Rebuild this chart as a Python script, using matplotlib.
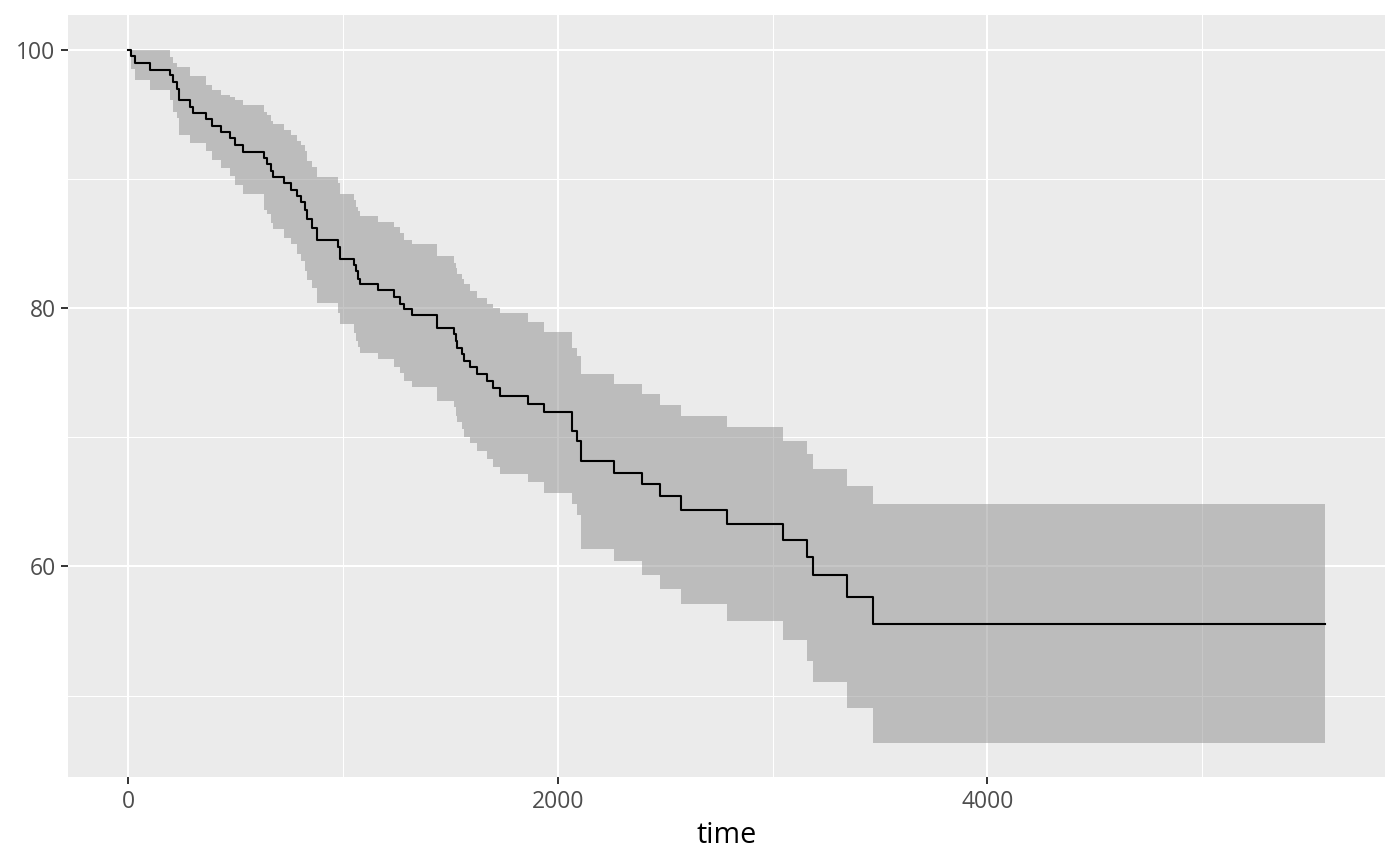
import numpy as np
import matplotlib
matplotlib.use("Agg")
import matplotlib.pyplot as plt
from matplotlib.ticker import MultipleLocator

# Kaplan-Meier step curve (time, survival %, CI bounds)
time = [0, 12, 34, 103, 193, 211, 226, 235, 286, 300, 360, 388, 434, 472, 498,
        536, 630, 647, 667, 673, 726, 759, 786, 806, 821, 834, 856, 877, 975,
        987, 1050, 1060, 1068, 1080, 1164, 1239, 1264, 1282, 1320, 1437, 1516,
        1526, 1533, 1553, 1565, 1591, 1625, 1671, 1700, 1732, 1863, 1936, 2067,
        2090, 2109, 2262, 2394, 2474, 2572, 2789, 3049, 3158, 3188, 3344, 3467]
surv = [100, 99.5, 98.94, 98.43, 98.05, 97.53, 96.96, 96.08, 95.52, 95.06,
        94.61, 94.09, 93.63, 93.15, 92.62, 92.1, 91.6, 91.14, 90.63, 90.12,
        89.68, 89.17, 88.7, 88.2, 87.62, 86.85, 86.2, 85.27, 84.7, 83.8, 83.3,
        82.86, 82.22, 81.83, 81.37, 80.85, 80.33, 79.9, 79.42, 78.45, 77.97,
        77.45, 76.93, 76.42, 75.9, 75.42, 74.9, 74.36, 73.8, 73.2, 72.58,
        71.94, 70.45, 69.68, 68.13, 67.23, 66.39, 65.43, 64.38, 63.27, 62.06,
        60.72, 59.31, 57.63, 55.57]
upper = [100, 100, 100, 100, 99.4, 99.0, 98.64, 98.64, 97.97, 97.97, 97.27,
         96.88, 96.5, 96.3, 96.11, 95.73, 95.2, 94.96, 94.5, 94.23, 93.8,
         93.41, 92.95, 92.59, 92.18, 91.35, 90.89, 90.12, 89.68, 88.83, 88.39,
         87.8, 87.54, 87.1, 86.67, 86.25, 85.82, 85.3, 84.92, 84.02, 83.5,
         83.11, 82.65, 82.22, 81.83, 81.31, 80.8, 80.29, 80.0, 79.6, 78.9,
         78.17, 76.93, 76.29, 74.88, 74.15, 73.38, 72.51, 71.66, 70.76, 69.73,
         68.7, 67.54, 66.25, 64.79]
lower = [100, 98.5, 97.66, 96.88, 96.11, 95.2, 94.7, 93.41, 92.77, 92.77,
         92.12, 91.48, 90.83, 90.19, 89.55, 88.8, 87.6, 87.28, 86.6, 86.08,
         85.43, 84.92, 84.14, 83.63, 82.86, 82.2, 81.57, 80.41, 79.6, 78.79,
         78.09, 77.45, 77.0, 76.55, 76.04, 75.44, 74.93, 74.36, 73.85, 72.82,
         72.3, 71.66, 71.14, 70.63, 70.04, 69.52, 68.9, 68.32, 67.72, 67.16,
         66.5, 65.66, 64.79, 63.94, 61.31, 60.41, 59.31, 58.28, 57.12, 55.75,
         54.29, 52.69, 51.07, 49.0, 46.35]
end_time = 5572

t = np.array(time + [end_time])
s = np.array(surv + [surv[-1]])
u = np.array(upper + [upper[-1]])
l = np.array(lower + [lower[-1]])

plt.rcParams["font.family"] = ["Open Sans", "DejaVu Sans"]

fig = plt.figure(figsize=(14, 8.66), dpi=100)
ax = fig.add_axes([0.0488, 0.1024, 0.9405, 0.8803])
ax.set_facecolor("#EBEBEB")

ax.fill_between(t, l, u, step="post", color="#8F8F8F", alpha=0.5,
                linewidth=0, zorder=2)
ax.plot(t, s, drawstyle="steps-post", color="black", linewidth=1.5, zorder=3)

ax.set_xlim(-278.6, 5850.6)
ax.set_ylim(43.67, 102.68)

ax.xaxis.set_major_locator(MultipleLocator(2000))
ax.xaxis.set_minor_locator(MultipleLocator(1000))
ax.yaxis.set_major_locator(MultipleLocator(20))
ax.yaxis.set_minor_locator(MultipleLocator(10))

ax.grid(which="major", color="white", linewidth=1.45, zorder=1)
ax.grid(which="minor", color="white", linewidth=0.72, zorder=1)
ax.set_axisbelow(True)

for sp in ax.spines.values():
    sp.set_visible(False)

ax.tick_params(which="major", length=5.2, width=1.4, color="#333333",
               labelsize=16.5, labelcolor="#4D4D4D", pad=4)
ax.tick_params(which="minor", length=0)

ax.set_xlabel("time", fontsize=20.6, color="black", labelpad=5)
ax.set_ylabel("")

fig.savefig("out.png", dpi=100)
